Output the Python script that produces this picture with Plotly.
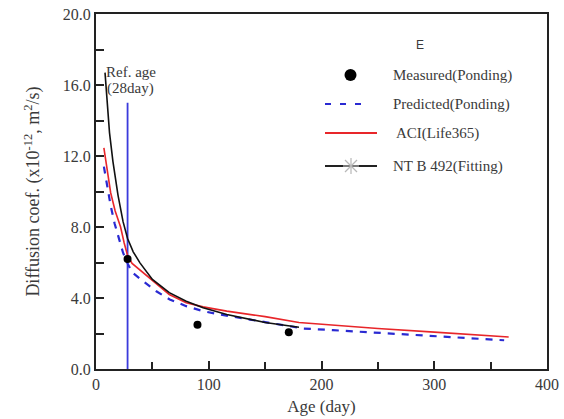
import plotly.graph_objects as go

# Measured chloride diffusion coefficients (ponding test)
measured_age = [28, 90, 171]
measured_d = [6.2, 2.5, 2.07]

# Predicted curve (ponding)
pred_age = [7, 10, 13, 16.5, 20.4, 24, 28, 32, 41.7, 53.5, 65.4, 80, 95, 110, 135, 164, 184, 210, 243, 300, 362]
pred_d = [11.4, 10.2, 9.2, 8.2, 7.3, 6.55, 5.95, 5.45, 4.95, 4.38, 3.92, 3.54, 3.26, 3.07, 2.8, 2.5, 2.28, 2.19, 2.07, 1.85, 1.62]

# ACI (Life365) model
aci_age = [7, 10, 13, 17, 21.8, 25, 28, 32, 38.7, 50.5, 65, 80, 95, 116, 150, 180, 250, 300, 366]
aci_d = [12.46, 11.1, 9.93, 8.9, 8.0, 7.1, 6.4, 5.95, 5.6, 4.95, 4.2, 3.73, 3.5, 3.26, 2.95, 2.62, 2.28, 2.08, 1.8]

# NT BUILD 492 power-law fitting
ntb_age = [8, 10, 12, 15, 19.5, 24, 28, 33, 39, 50, 65, 80, 95, 116, 150, 180]
ntb_d = [16.7, 14.8, 13.3, 11.7, 9.8, 8.3, 7.35, 6.6, 5.98, 5.05, 4.3, 3.82, 3.45, 3.07, 2.62, 2.35]

# Reference age marker
ref_age = [28, 28]
ref_span = [0, 15]

serif = "Liberation Serif, Times New Roman, serif"
text_col = "#3a3a3a"
frame_col = "#222222"

fig = go.Figure()

fig.add_trace(go.Scatter(x=ref_age, y=ref_span, mode="lines",
                         line=dict(color="#3b3bdc", width=1.8), showlegend=False))
fig.add_trace(go.Scatter(x=pred_age, y=pred_d, mode="lines",
                         line=dict(color="#2a2ad2", width=2.2, dash="7px,7px"), showlegend=False))
fig.add_trace(go.Scatter(x=aci_age, y=aci_d, mode="lines",
                         line=dict(color="#e8262a", width=1.6), showlegend=False))
fig.add_trace(go.Scatter(x=ntb_age, y=ntb_d, mode="lines",
                         line=dict(color="#111111", width=1.6), showlegend=False))
fig.add_trace(go.Scatter(x=measured_age, y=measured_d, mode="markers",
                         marker=dict(color="#000000", size=8), showlegend=False))

axis_common = dict(
    showline=True, linecolor=frame_col, linewidth=2, mirror=True,
    ticks="inside", ticklen=8, tickwidth=1.5, tickcolor=frame_col,
    showgrid=False, zeroline=False, automargin=False,
    tickfont=dict(family=serif, size=16, color=text_col),
)

fig.update_xaxes(range=[0, 400], dtick=100, tick0=0,
                 minor=dict(dtick=50, ticks="inside", ticklen=7, tickwidth=1.5, tickcolor=frame_col),
                 title=dict(text="Age (day)", font=dict(family=serif, size=17, color=text_col), standoff=8),
                 **axis_common)
fig.update_yaxes(range=[0, 20], dtick=4, tick0=0, tickformat=".1f",
                 minor=dict(dtick=2, ticks="inside", ticklen=8, tickwidth=1.5, tickcolor=frame_col),
                 title=dict(text="Diffusion coef. (x10<sup>-12</sup>, m<sup>2</sup>/s)",
                            font=dict(family=serif, size=18, color=text_col), standoff=18),
                 **axis_common)

# Page geometry used to place the hand-drawn legend
W, H = 564, 419
L, R, T, B = 96, 17, 14, 50
pw, ph = W - L - R, H - T - B


def px(xp):
    return (xp - L) / pw


def py(yp):
    return (H - B - yp) / ph


annotations = [
    dict(x=31, y=16.75, xref="x", yref="y", text="Ref. age", showarrow=False,
         xanchor="center", yanchor="middle",
         font=dict(family=serif, size=15, color=text_col)),
    dict(x=31, y=15.8, xref="x", yref="y", text="(28day)", showarrow=False,
         xanchor="center", yanchor="middle",
         font=dict(family=serif, size=15, color=text_col)),
    dict(x=px(420), y=py(45), xref="paper", yref="paper", text="E", showarrow=False,
         xanchor="center", yanchor="middle",
         font=dict(family="Liberation Sans, Arial, sans-serif", size=12, color=text_col)),
]

legend_rows = [
    ("Measured(Ponding)", 75),
    ("Predicted(Ponding)", 104),
    (" ACI(Life365)", 133),
    ("NT B 492(Fitting)", 166),
]
for label, yrow in legend_rows:
    annotations.append(dict(x=px(391), y=py(yrow), xref="paper", yref="paper",
                            xanchor="left", yanchor="middle",
                            text=label, showarrow=False,
                            font=dict(family=serif, size=15, color=text_col)))

shapes = []
# Measured: filled circle
shapes.append(dict(type="circle", xref="paper", yref="paper",
                   x0=px(344.5), x1=px(356.5), y0=py(81), y1=py(69),
                   fillcolor="#000000", line=dict(width=0)))
# Predicted: blue dashes
shapes.append(dict(type="line", xref="paper", yref="paper",
                   x0=px(325), x1=px(367), y0=py(104), y1=py(104),
                   line=dict(color="#2a2ad2", width=2.2, dash="6px,9px")))
# ACI: red line
shapes.append(dict(type="line", xref="paper", yref="paper",
                   x0=px(325), x1=px(377), y0=py(133), y1=py(133),
                   line=dict(color="#e8262a", width=2)))
# NT B 492: black line with light asterisk
shapes.append(dict(type="line", xref="paper", yref="paper",
                   x0=px(325), x1=px(377), y0=py(166), y1=py(166),
                   line=dict(color=frame_col, width=2)))
for dx0, dy0, dx1, dy1 in [(-8, 0, 8, 0), (0, -8, 0, 8), (-6, -6, 6, 6), (-6, 6, 6, -6)]:
    shapes.append(dict(type="line", xref="paper", yref="paper",
                       x0=px(351 + dx0), x1=px(351 + dx1), y0=py(166 + dy0), y1=py(166 + dy1),
                       line=dict(color="#b8b8b8", width=1.2)))

fig.update_layout(
    width=W, height=H,
    margin=dict(l=L, r=R, t=T, b=B),
    paper_bgcolor="white", plot_bgcolor="white",
    showlegend=False,
    annotations=annotations,
    shapes=shapes,
)

fig.write_html("out.html")
